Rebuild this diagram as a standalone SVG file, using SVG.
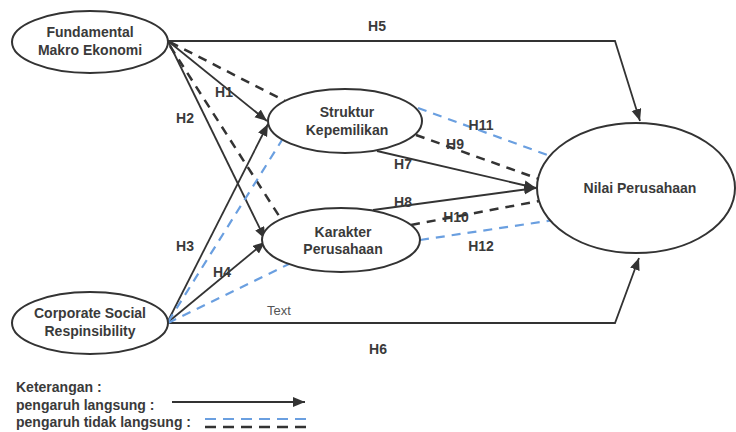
<svg xmlns="http://www.w3.org/2000/svg" width="736" height="432" viewBox="0 0 736 432">
<defs>
<marker id="arr" markerUnits="userSpaceOnUse" markerWidth="14" markerHeight="12" refX="12" refY="5" orient="auto">
<path d="M0,0 L12,5 L0,10 Z" fill="#333"/>
</marker>
<style>
.node ellipse{fill:#fff;stroke:#333;stroke-width:2}
.lbl{font-family:"Liberation Sans",Arial,sans-serif;font-size:14px;font-weight:bold;fill:#3a3a3a;text-anchor:middle}
.hl{font-family:"Liberation Sans",Arial,sans-serif;font-size:14px;font-weight:bold;fill:#3a3a3a;text-anchor:middle}
.leg{font-family:"Liberation Sans",Arial,sans-serif;font-size:14px;font-weight:bold;fill:#3a3a3a}
.sol{fill:none;stroke:#333;stroke-width:1.8}
.dk{fill:none;stroke:#333;stroke-width:2.5;stroke-dasharray:9 7}
.bl{fill:none;stroke:#6a9fe0;stroke-width:2.2;stroke-dasharray:9 7}
</style>
</defs>
<rect width="736" height="432" fill="#fff"/>
<g id="connectors">
<polyline class="sol" points="168,41 615,41 640,121" marker-end="url(#arr)"/>
<polyline class="sol" points="167,323 615,323 639,258" marker-end="url(#arr)"/>
<line class="sol" x1="168" y1="41" x2="267" y2="121" marker-end="url(#arr)"/>
<line class="sol" x1="168" y1="41" x2="265" y2="239" marker-end="url(#arr)"/>
<line class="sol" x1="167" y1="323" x2="268" y2="124" marker-end="url(#arr)"/>
<line class="sol" x1="167" y1="323" x2="265" y2="242" marker-end="url(#arr)"/>
<line class="dk" x1="170" y1="42" x2="285" y2="101"/>
<line class="dk" x1="170" y1="46" x2="281" y2="219"/>
<line class="bl" x1="168" y1="322" x2="282" y2="140"/>
<line class="bl" x1="168" y1="323" x2="291" y2="263"/>
<line class="sol" x1="377" y1="151" x2="536" y2="188" marker-end="url(#arr)"/>
<line class="sol" x1="373" y1="210" x2="536" y2="188" marker-end="url(#arr)"/>
<line class="dk" x1="416" y1="135" x2="539" y2="179"/>
<line class="bl" x1="418" y1="108" x2="553" y2="157"/>
<line class="dk" x1="411" y1="225" x2="539" y2="201"/>
<line class="bl" x1="420" y1="240" x2="554" y2="220"/>
<line class="sol" x1="172" y1="402" x2="305" y2="402" marker-end="url(#arr)"/>
<line class="bl" x1="205" y1="419" x2="307" y2="419" style="stroke-dasharray:11 7"/>
<line class="dk" x1="205" y1="427" x2="307" y2="427" style="stroke-dasharray:11 7"/>
</g>
<g id="fme" class="node">
<ellipse cx="90" cy="42" rx="78" ry="31"/>
<text class="lbl" x="90" y="37">Fundamental</text>
<text class="lbl" x="90" y="55">Makro Ekonomi</text>
</g>
<g id="csr" class="node">
<ellipse cx="90" cy="323" rx="78" ry="31"/>
<text class="lbl" x="90" y="318">Corporate Social</text>
<text class="lbl" x="90" y="336">Respinsibility</text>
</g>
<g id="sk" class="node">
<ellipse cx="345" cy="121" rx="77" ry="32"/>
<text class="lbl" x="347" y="117">Struktur</text>
<text class="lbl" x="347" y="135">Kepemilikan</text>
</g>
<g id="kp" class="node">
<ellipse cx="341" cy="240" rx="79" ry="32"/>
<text class="lbl" x="343" y="237">Karakter</text>
<text class="lbl" x="343" y="254">Perusahaan</text>
</g>
<g id="np" class="node">
<ellipse cx="636" cy="188" rx="99" ry="65"/>
<text class="lbl" x="640" y="193">Nilai Perusahaan</text>
</g>
<g id="labels">
<text class="hl" x="377" y="31">H5</text>
<text class="hl" x="224" y="97">H1</text>
<text class="hl" x="185" y="123">H2</text>
<text class="hl" x="185" y="251">H3</text>
<text class="hl" x="222" y="277">H4</text>
<text class="hl" x="378" y="354">H6</text>
<text x="279" y="315" style="font-family:'Liberation Sans',Arial,sans-serif;font-size:13px;fill:#555;text-anchor:middle">Text</text>
<text class="hl" x="403" y="169">H7</text>
<text class="hl" x="403" y="207">H8</text>
<text class="hl" x="455" y="149">H9</text>
<text class="hl" x="456" y="222">H10</text>
<text class="hl" x="481" y="130">H11</text>
<text class="hl" x="481" y="251">H12</text>
</g>
<g id="legend">
<text class="leg" x="16" y="392">Keterangan :</text>
<text class="leg" x="16" y="410">pengaruh langsung :</text>
<text class="leg" x="16" y="427">pengaruh tidak langsung :</text>
</g>
</svg>
